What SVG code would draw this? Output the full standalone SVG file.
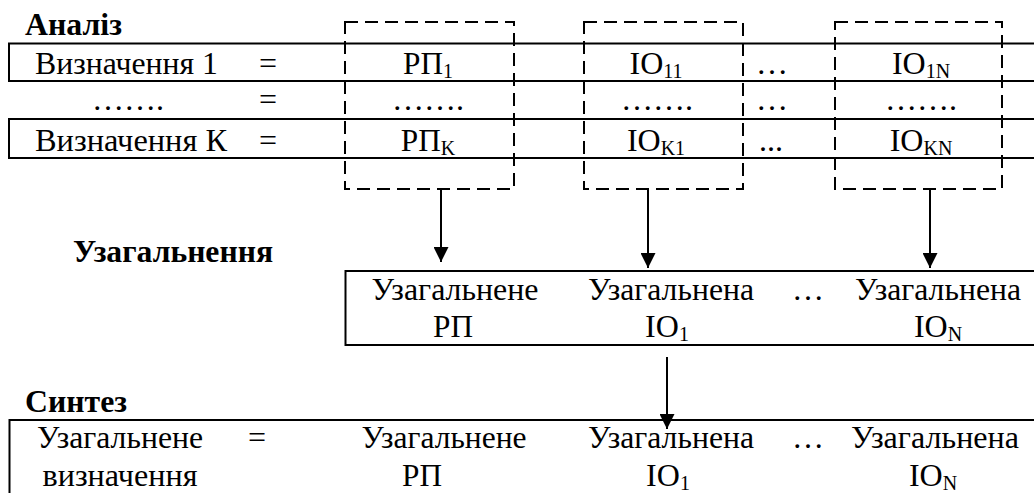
<svg xmlns="http://www.w3.org/2000/svg" width="1034" height="493" viewBox="0 0 1034 493">
<defs>
<marker id="ah" markerUnits="userSpaceOnUse" markerWidth="15" markerHeight="15" refX="15" refY="7.5" orient="auto">
<path d="M0,0 L15,7.5 L0,15 z" fill="#000"/>
</marker>
<style>
text{font-family:"Liberation Serif","Times New Roman",serif;font-size:32px;fill:#000}
.h{font-weight:bold}
.m{text-anchor:middle}
.s{font-size:20px}
.box{fill:none;stroke:#000;stroke-width:2}
.dash{fill:none;stroke:#000;stroke-width:2;stroke-dasharray:13 7}
.conn{stroke:#000;stroke-width:2;fill:none;marker-end:url(#ah)}
</style>
</defs>
<rect width="1034" height="493" fill="#fff"/>

<g id="analysis">
<text class="h" x="25" y="35" textLength="97" lengthAdjust="spacingAndGlyphs">Аналіз</text>
<rect class="box" x="9" y="43.5" width="1040" height="37.5"/>
<rect class="box" x="9" y="119" width="1040" height="39"/>
<text x="35" y="74" textLength="183" lengthAdjust="spacingAndGlyphs">Визначення 1</text>
<text class="m" x="268" y="74">=</text>
<text class="m" x="128" y="110">…….</text>
<text class="m" x="268" y="110">=</text>
<text x="35" y="151" textLength="192" lengthAdjust="spacingAndGlyphs">Визначення К</text>
<text class="m" x="268" y="151">=</text>
</g>

<g id="col-rp">
<rect class="dash" x="345" y="22" width="169" height="167"/>
<text class="m" x="428" y="74"><tspan textLength="40" lengthAdjust="spacingAndGlyphs">РП</tspan><tspan class="s" dy="4">1</tspan></text>
<text class="m" x="428" y="110">…….</text>
<text class="m" x="428" y="151"><tspan textLength="40" lengthAdjust="spacingAndGlyphs">РП</tspan><tspan class="s" dy="4">K</tspan></text>
</g>

<g id="col-io1">
<rect class="dash" x="584" y="22" width="159" height="167"/>
<text class="m" x="656" y="74">IO<tspan class="s" dy="4">11</tspan></text>
<text class="m" x="657" y="110">…….</text>
<text class="m" x="656" y="151">IO<tspan class="s" dy="4">K1</tspan></text>
</g>

<g id="col-dots">
<text class="m" x="772" y="74">…</text>
<text class="m" x="772" y="110">…</text>
<text class="m" x="771" y="151">...</text>
</g>

<g id="col-ion">
<rect class="dash" x="835" y="22" width="167" height="167"/>
<text class="m" x="921" y="74">IO<tspan class="s" dy="4">1N</tspan></text>
<text class="m" x="921" y="110">…….</text>
<text class="m" x="921" y="151">IO<tspan class="s" dy="4">KN</tspan></text>
</g>

<g id="generalization">
<text class="h" x="73" y="262" textLength="200" lengthAdjust="spacingAndGlyphs">Узагальнення</text>
<rect class="box" x="345.5" y="271" width="700" height="74"/>
<text class="m" x="455" y="300" textLength="167" lengthAdjust="spacingAndGlyphs">Узагальнене</text>
<text class="m" x="453" y="337" textLength="40" lengthAdjust="spacingAndGlyphs">РП</text>
<text class="m" x="671" y="300" textLength="166" lengthAdjust="spacingAndGlyphs">Узагальнена</text>
<text class="m" x="667" y="337">IO<tspan class="s" dy="4">1</tspan></text>
<text class="m" x="808" y="300">…</text>
<text class="m" x="938" y="300" textLength="166" lengthAdjust="spacingAndGlyphs">Узагальнена</text>
<text class="m" x="938" y="337">IO<tspan class="s" dy="4">N</tspan></text>
</g>

<g id="synthesis">
<text class="h" x="25" y="412" textLength="102" lengthAdjust="spacingAndGlyphs">Синтез</text>
<rect class="box" x="9.5" y="420" width="1040" height="100"/>
<text class="m" x="120" y="448" textLength="166" lengthAdjust="spacingAndGlyphs">Узагальнене</text>
<text class="m" x="120" y="486" textLength="155" lengthAdjust="spacingAndGlyphs">визначення</text>
<text class="m" x="257" y="448">=</text>
<text class="m" x="444" y="448" textLength="165" lengthAdjust="spacingAndGlyphs">Узагальнене</text>
<text class="m" x="422" y="486" textLength="40" lengthAdjust="spacingAndGlyphs">РП</text>
<text class="m" x="671" y="448" textLength="166" lengthAdjust="spacingAndGlyphs">Узагальнена</text>
<text class="m" x="668" y="486">IO<tspan class="s" dy="4">1</tspan></text>
<text class="m" x="808" y="448">…</text>
<text class="m" x="935" y="448" textLength="168" lengthAdjust="spacingAndGlyphs">Узагальнена</text>
<text class="m" x="933" y="486">IO<tspan class="s" dy="4">N</tspan></text>
</g>

<g id="connectors">
<line class="conn" x1="441" y1="189" x2="441" y2="262"/>
<line class="conn" x1="648" y1="189" x2="648" y2="268"/>
<line class="conn" x1="930" y1="189" x2="930" y2="268"/>
<line class="conn" x1="667" y1="357" x2="667" y2="429"/>
</g>
</svg>
